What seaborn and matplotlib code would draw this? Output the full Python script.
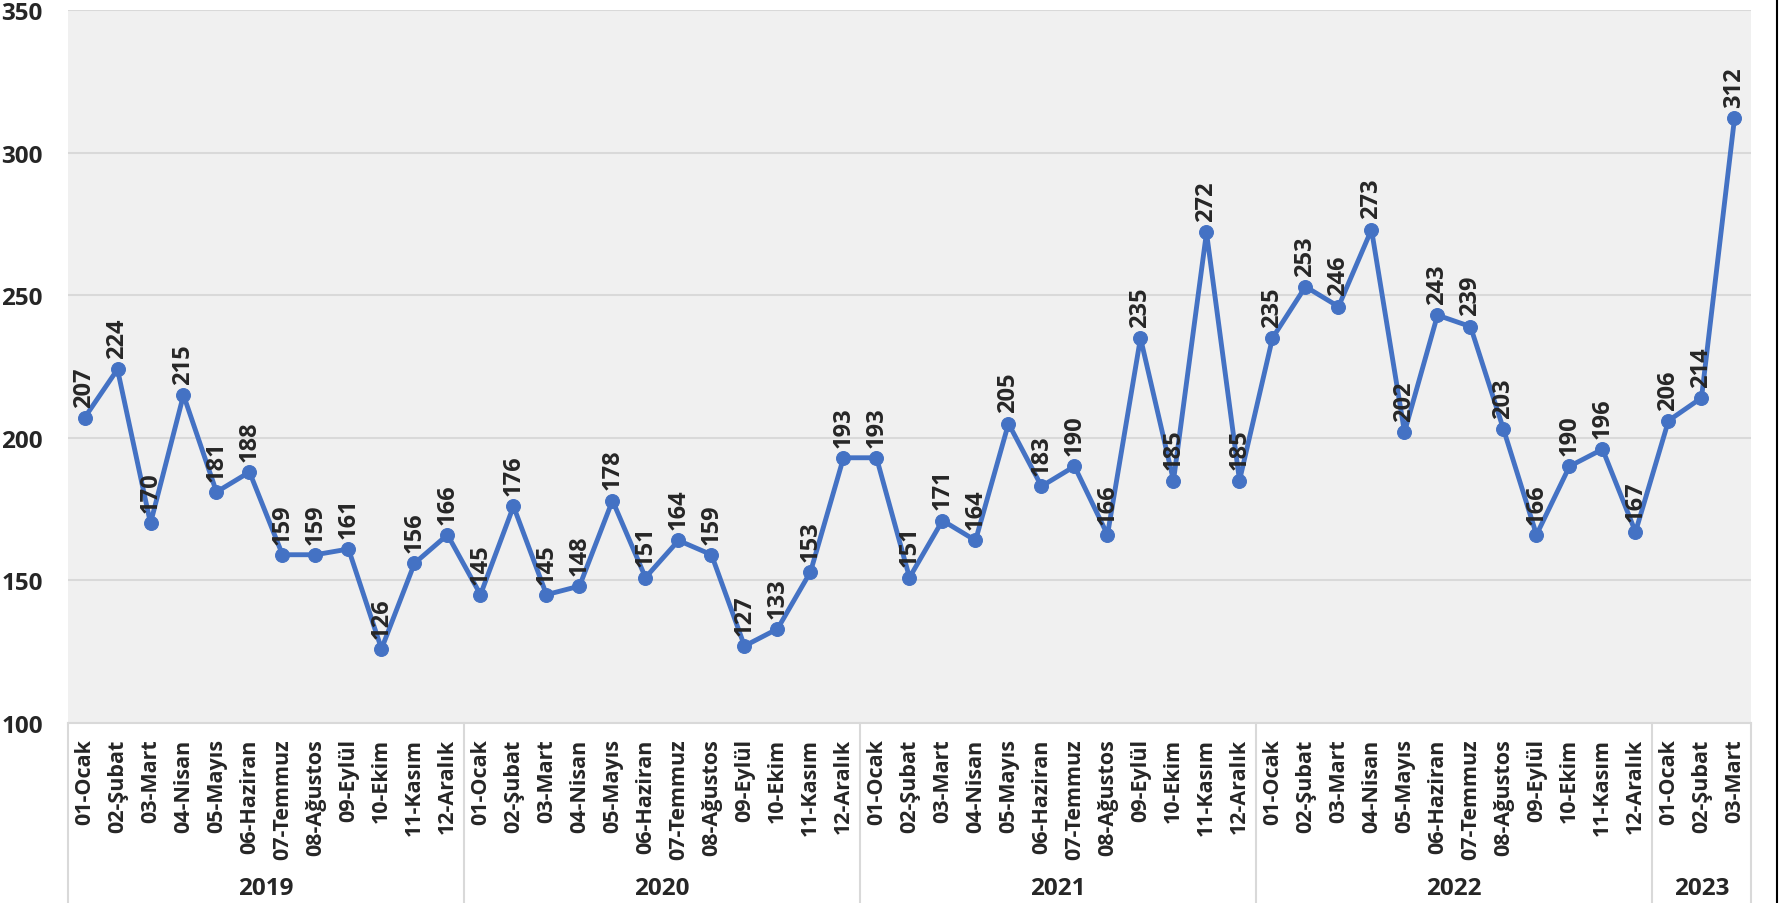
import matplotlib.pyplot as plt
import matplotlib.transforms as mtransforms
from matplotlib.lines import Line2D
import pandas as pd
import seaborn as sns

# Data
months = ["01-Ocak", "02-Şubat", "03-Mart", "04-Nisan", "05-Mayıs", "06-Haziran",
          "07-Temmuz", "08-Ağustos", "09-Eylül", "10-Ekim", "11-Kasım", "12-Aralık"]
years = ["2019", "2020", "2021", "2022", "2023"]
months_per_year = [12, 12, 12, 12, 3]

values_2019 = [207, 224, 170, 215, 181, 188, 159, 159, 161, 126, 156, 166]
values_2020 = [145, 176, 145, 148, 178, 151, 164, 159, 127, 133, 153, 193]
values_2021 = [193, 151, 171, 164, 205, 183, 190, 166, 235, 185, 272, 185]
values_2022 = [235, 253, 246, 273, 202, 243, 239, 203, 166, 190, 196, 167]
values_2023 = [206, 214, 312]

all_values = values_2019 + values_2020 + values_2021 + values_2022 + values_2023
month_labels = []
for n in months_per_year:
    month_labels += months[:n]

df = pd.DataFrame({"idx": range(len(all_values)), "value": all_values})

sns.set_style("whitegrid", {"axes.facecolor": "#f0f0f0", "grid.color": "#d9d9d9",
                            "axes.edgecolor": "#d9d9d9"})
plt.rcParams['font.family'] = ['Open Sans', 'DejaVu Sans']
plt.rcParams['font.weight'] = 'bold'

fig = plt.figure(figsize=(17.81, 9.04), dpi=100)
ax = fig.add_axes([68 / 1781, 1 - 724 / 904, (1751 - 68) / 1781, (724 - 11) / 904])

blue = "#4472C4"
sns.lineplot(data=df, x="idx", y="value", ax=ax, color=blue, linewidth=3.5,
             marker="o", markersize=10, markeredgecolor=blue)

for i, v in enumerate(all_values):
    ax.annotate(f"{v}", (i, v), xytext=(0, 8), textcoords="offset points",
                rotation=90, ha="center", va="bottom", fontsize=17, fontweight="bold")

ax.set_xlim(-0.5, len(all_values) - 0.5)
ax.set_ylim(100, 350)
ax.set_yticks([100, 150, 200, 250, 300, 350])
ax.tick_params(axis="y", labelsize=17.5, pad=18, length=0)
for lab in ax.get_yticklabels():
    lab.set_fontweight("bold")
ax.grid(axis="x", visible=False)
ax.grid(axis="y", linewidth=1.5)
for side in ["top", "left", "right"]:
    ax.spines[side].set_visible(False)
ax.spines["bottom"].set_linewidth(1.5)

ax.set_xticks(range(len(all_values)))
ax.set_xticklabels(month_labels, rotation=90, fontsize=15.5, fontweight="bold", va="top")
ax.tick_params(axis="x", length=0, pad=11)
ax.set_xlabel("")
ax.set_ylabel("")

# year groups and separators below the axis
trans = mtransforms.blended_transform_factory(ax.transData, ax.transAxes)
axes_h = (724 - 11) / 904
bottom_y = -(1 - axes_h - 11 / 904) / axes_h - 0.01
start = 0
bounds = [-0.5]
for y, n in zip(years, months_per_year):
    center = start + (n - 1) / 2
    ax.text(center, -0.232, y, transform=trans, ha="center", va="center",
            fontsize=17.5, fontweight="bold")
    start += n
    bounds.append(start - 0.5)
for b in bounds:
    ax.add_line(Line2D([b, b], [0, bottom_y], transform=trans, color="#d9d9d9",
                       linewidth=1.5, clip_on=False))

# chart frame edge on the right
fig.add_artist(Line2D([1777 / 1781, 1777 / 1781], [0, 1], transform=fig.transFigure,
                      color="black", linewidth=1.5))

fig.savefig("out.png", dpi=100, facecolor="white")
